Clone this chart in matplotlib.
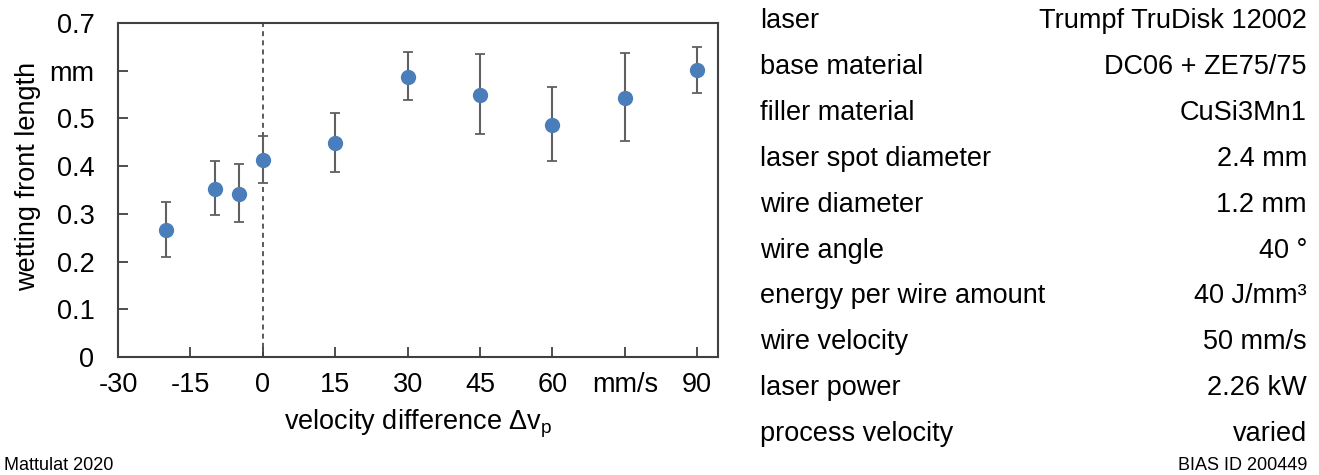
import numpy as np
import matplotlib.pyplot as plt

plt.rcParams['font.family'] = ['Liberation Sans', 'DejaVu Sans']

# measured data
dv = [-20, -10, -5, 0, 15, 30, 45, 60, 75, 90]
length = [0.266, 0.352, 0.341, 0.413, 0.449, 0.586, 0.550, 0.486, 0.543, 0.601]
err_low = [0.056, 0.055, 0.059, 0.048, 0.062, 0.048, 0.082, 0.076, 0.091, 0.047]
err_high = [0.058, 0.058, 0.063, 0.051, 0.063, 0.053, 0.085, 0.079, 0.095, 0.048]

xticks = [-30, -15, 0, 15, 30, 45, 60, 75, 90]
xticklabels = ['-30', '-15', '0', '15', '30', '45', '60', 'mm/s', '90']
yticks = [0, 0.1, 0.2, 0.3, 0.4, 0.5, 0.6, 0.7]
yticklabels = ['0', '0.1', '0.2', '0.3', '0.4', '0.5', 'mm', '0.7']

params = ['laser', 'base material', 'filler material', 'laser spot diameter',
          'wire diameter', 'wire angle', 'energy per wire amount',
          'wire velocity', 'laser power', 'process velocity']
values = ['Trumpf TruDisk 12002', 'DC06 + ZE75/75', 'CuSi3Mn1', '2.4 mm',
          '1.2 mm', '40 °', '40 J/mm³', '50 mm/s', '2.26 kW', 'varied']

fig = plt.figure(figsize=(13.19, 4.75), dpi=100)
ax = fig.add_axes([118 / 1319, 1 - 357 / 475, 600 / 1319, 334 / 475])

ax.axvline(0, color='#404040', linestyle=(0, (3, 2.5)), linewidth=1.2, zorder=1)
ax.errorbar(dv, length, yerr=[err_low, err_high], fmt='o', color='#4a7ebb',
            markersize=10, ecolor='#606060', elinewidth=1.5, capsize=3.5,
            capthick=1.3, zorder=3)

ax.set_xlim(-30, 94.3)
ax.set_ylim(0, 0.7)
ax.set_xticks(xticks)
ax.set_xticklabels(xticklabels)
ax.set_yticks(yticks)
ax.set_yticklabels(yticklabels)
ax.tick_params(direction='in', length=7, width=1.3, color='#404040',
               labelsize=19.5)
ax.tick_params(axis='y', pad=17)
ax.tick_params(axis='x', pad=11)
for s in ax.spines.values():
    s.set_color('#404040')
    s.set_linewidth(1.5)

ax.set_xlabel('velocity difference Δv$_\\mathregular{p}$', fontsize=19.5, labelpad=7)
ax.set_ylabel('wetting front length', fontsize=19.5)
ax.yaxis.set_label_coords(-0.128, 0.54)

# parameter table
y0 = 21
for i, (p, v) in enumerate(zip(params, values)):
    y = 1 - (y0 + i * 45.9) / 475
    fig.text(760 / 1319, y, p, fontsize=19.5, va='center', ha='left')
    fig.text(1307 / 1319, y, v, fontsize=19.5, va='center', ha='right')

fig.text(4 / 1319, 1 - 465 / 475, 'Mattulat 2020', fontsize=13, va='center', ha='left')
fig.text(1307 / 1319, 1 - 465 / 475, 'BIAS ID 200449', fontsize=13, va='center', ha='right')

fig.savefig('out.png', dpi=100)
